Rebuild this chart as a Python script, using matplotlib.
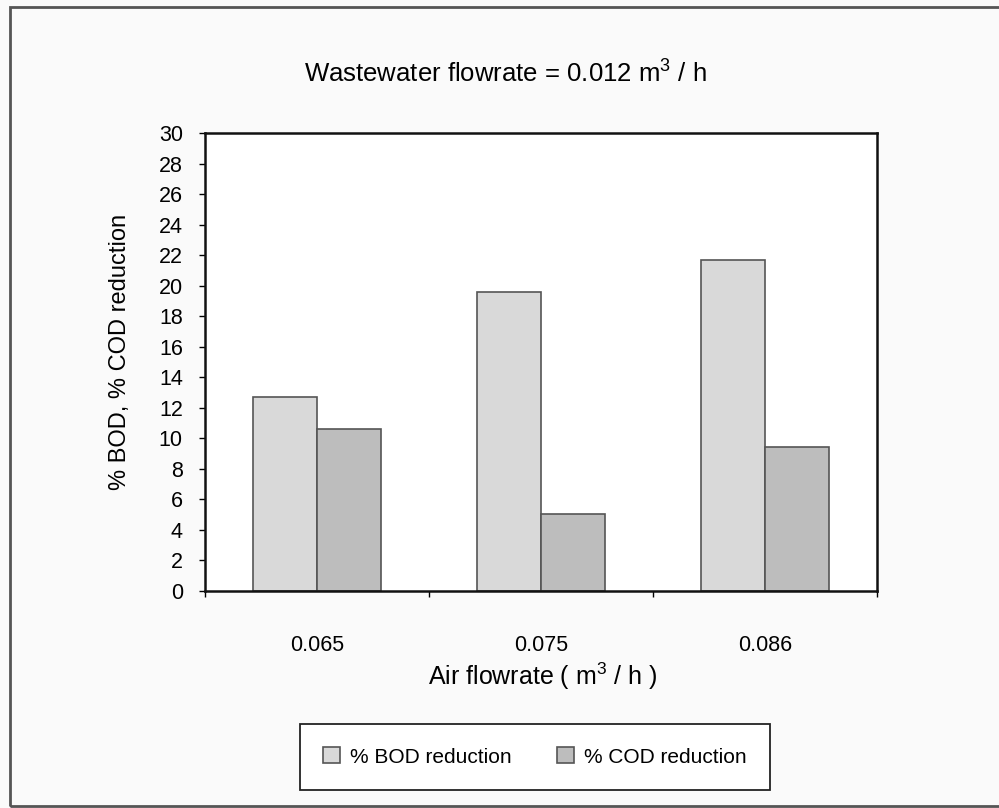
import matplotlib
matplotlib.use('Agg')
import matplotlib.pyplot as plt
import numpy as np
from matplotlib.patches import Rectangle

plt.rcParams['font.family'] = ['Liberation Sans', 'DejaVu Sans']
plt.rcParams['mathtext.fontset'] = 'custom'
plt.rcParams['mathtext.rm'] = 'Liberation Sans'
plt.rcParams['mathtext.it'] = 'Liberation Sans:italic'

# air flowrates (m3/h) and reductions in %
air_flow = ['0.065', '0.075', '0.086']
bod_red = [12.7, 19.6, 21.7]
cod_red = [10.6, 5.0, 9.4]

fig = plt.figure(figsize=(9.99, 8.08), dpi=100, facecolor='#fafafa')
ax = fig.add_axes([205/999, 1 - 590.7/808, 672/999, 457.7/808])
ax.set_facecolor('white')

x = np.arange(len(air_flow))
w = 0.285
ax.bar(x - w/2, bod_red, w, color='#d9d9d9', edgecolor='#555555', linewidth=1.2, label='% BOD reduction')
ax.bar(x + w/2, cod_red, w, color='#bdbdbd', edgecolor='#555555', linewidth=1.2, label='% COD reduction')

ax.set_xlim(-0.5, 2.5)
ax.set_ylim(0, 30)
ax.set_yticks(np.arange(0, 31, 2))
ax.tick_params(axis='y', direction='out', length=4, width=1, labelsize=15.5, pad=12)

# boundary ticks between categories, labels centred under each group
ax.set_xticks([-0.5, 0.5, 1.5, 2.5])
ax.set_xticklabels([])
ax.set_xticks(x, minor=True)
ax.set_xticklabels(air_flow, minor=True)
ax.tick_params(axis='x', which='major', direction='out', length=4, width=1)
ax.tick_params(axis='x', which='minor', length=0, labelsize=15.5, pad=32)

for s in ax.spines.values():
    s.set_linewidth(1.8)
    s.set_color('#111111')

fig.text(505/999, 1 - 74/808, 'Wastewater flowrate = 0.012 m$^{3}$ / h',
         ha='center', va='center', fontsize=18.5)
fig.text(543/999, 1 - 676/808, 'Air flowrate ( m$^{3}$ / h )',
         ha='center', va='center', fontsize=18)
fig.text(120/999, 1 - 352/808, '% BOD, % COD reduction',
         ha='center', va='center', rotation=90, fontsize=17)

leg = fig.legend(loc='center', bbox_to_anchor=(535/999, 1 - 757/808), ncol=2,
                 fontsize=15, fancybox=False, edgecolor='#222222', framealpha=1,
                 handlelength=0.8, handleheight=0.8, handletextpad=0.5,
                 columnspacing=2.2, borderpad=1.1)
leg.get_frame().set_linewidth(1.3)

# outer frame of the chart area
fig.patches.append(Rectangle((10/999, 2/808), 1.0, 1 - 9/808, transform=fig.transFigure,
                             fill=False, edgecolor='#555555', linewidth=2))

fig.savefig('out.png', dpi=100, facecolor=fig.get_facecolor())
